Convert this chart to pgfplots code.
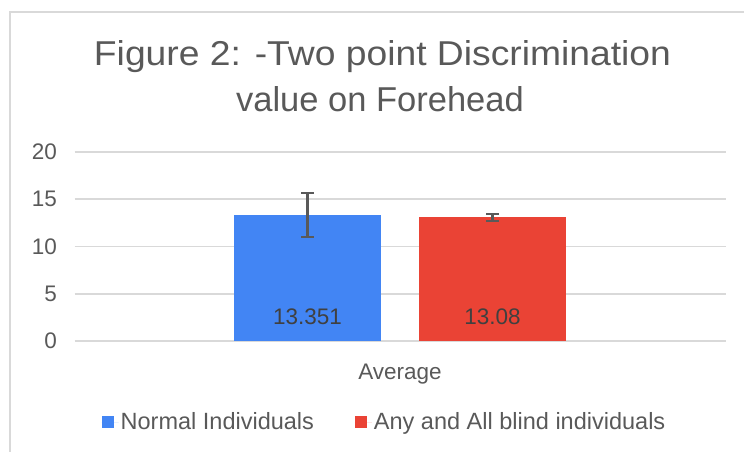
\documentclass[border=0pt]{standalone}
\usepackage{fontspec}
\setmainfont{Liberation Sans}
\usepackage{graphicx}
\usepackage{pgfplots}
\pgfplotsset{compat=1.18}
\definecolor{cblue}{HTML}{4285F4}
\definecolor{cred}{HTML}{EA4335}
\definecolor{cgrid}{HTML}{D9D9D9}
\definecolor{ctext}{HTML}{595959}
\definecolor{clabel}{HTML}{404040}
\definecolor{cerr}{HTML}{595959}
\newcommand{\fs}{\fontsize{22.5}{27}\selectfont}
\newcommand{\fl}{\fontsize{23.5}{28}\selectfont}
\begin{document}
\begin{tikzpicture}[x=1pt,y=1pt]
\path[use as bounding box] (0,0) rectangle (744,451);
\draw[cgrid, line width=1.6pt] (10,-5) -- (10,439) -- (760,439);
\node[anchor=base, text=ctext, font=\fontsize{34.5}{40}\selectfont] at (382.5,385) {\scalebox{1.08}[1]{Figure 2: -Two point Discrimination}};
\node[anchor=base, text=ctext, font=\fontsize{34.5}{40}\selectfont] at (380,340) {value on Forehead};
\begin{axis}[
  at={(74.5pt,110pt)}, anchor=south west,
  scale only axis, width=651pt, height=189pt,
  xmin=-1, xmax=1, ymin=0, ymax=20,
  ytick={0,5,10,15,20},
  xtick={0}, xticklabels={Average},
  axis line style={draw=none},
  major tick length=0pt,
  ymajorgrids, grid style={cgrid, line width=1.8pt},
  ybar, bar width=147pt,
  tick label style={font=\fs, text=ctext},
  /pgf/number format/assume math mode=true,
  yticklabel style={anchor=east, xshift=-14pt},
  xticklabel style={anchor=base, yshift=-38pt},
  legend style={at={(0.4762,-0.4286)}, anchor=center, draw=none, fill=none,
    legend columns=2, font=\fl, text=ctext,
    /tikz/every even column/.append style={column sep=39pt}},
]
\addplot[fill=cblue, draw=none, bar shift=-92.5pt,
  legend image code/.code={\fill[cblue] (0pt,-6pt) rectangle (12pt,6pt); \path (0pt,0pt) -- (17pt,0pt);},
  error bars/.cd, y dir=both, y explicit,
  error bar style={cerr, line width=2.3pt},
  error mark options={rotate=90, mark size=6.3pt, line width=2.3pt, cerr}]
  coordinates {(0,13.351) +- (0,2.33)};
\addlegendentry{Normal Individuals}
\addplot[fill=cred, draw=none, bar shift=92.5pt,
  legend image code/.code={\fill[cred] (0pt,-6pt) rectangle (12pt,6pt); \path (0pt,0pt) -- (17pt,0pt);},
  error bars/.cd, y dir=both, y explicit,
  error bar style={cerr, line width=2.3pt},
  error mark options={rotate=90, mark size=6.3pt, line width=2.3pt, cerr}]
  coordinates {(0,13.08) +- (0,0.35)};
\addlegendentry{Any and All blind individuals}
\node[anchor=base, text=clabel, font=\fs, xshift=-92.5pt] at (axis cs:0,1.75) {13.351};
\node[anchor=base, text=clabel, font=\fs, xshift=92.5pt] at (axis cs:0,1.75) {13.08};
\end{axis}
\end{tikzpicture}
\end{document}
